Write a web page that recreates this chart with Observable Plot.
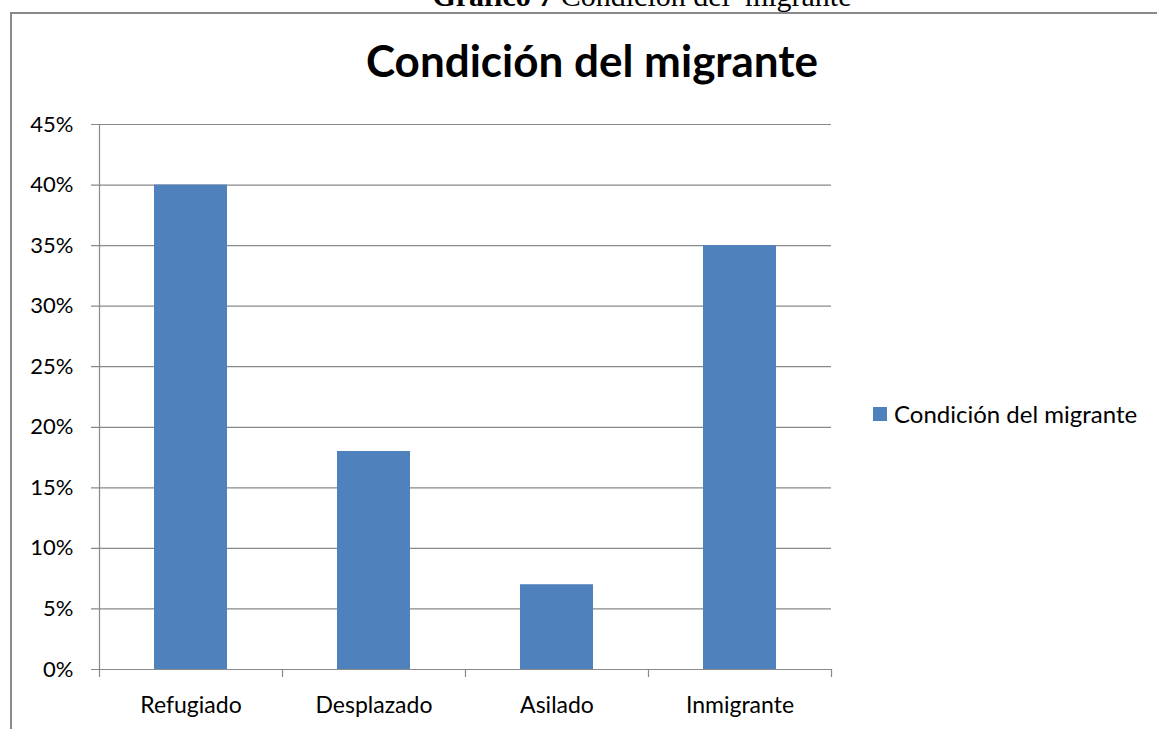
<!DOCTYPE html>
<html>
<head>
<meta charset="utf-8">
<script src="https://cdn.jsdelivr.net/npm/d3@7"></script>
<script src="https://cdn.jsdelivr.net/npm/@observablehq/plot@0.6"></script>
<style>
  html, body { margin: 0; padding: 0; background: #fff; }
  #wrap { position: relative; width: 1157px; height: 729px; overflow: hidden; background: #fff; }
  #frame { position: absolute; left: 10px; top: 12px; width: 1300px; height: 900px;
           border-left: 2px solid #8a8a8a; border-top: 2px solid #8a8a8a; box-sizing: border-box; }
</style>
</head>
<body>
<div id="wrap">
  <div id="frame"></div>
</div>
<script>
const categories = ["Refugiado", "Desplazado", "Asilado", "Inmigrante"];
const values = [0.40, 0.18, 0.07, 0.35];
const yTicks = [0, 0.05, 0.10, 0.15, 0.20, 0.25, 0.30, 0.35, 0.40, 0.45];
const captionBold = "Gráfico 7";
const captionText = " Condición del  migrante";
const chartTitle = "Condición del migrante";
const seriesName = "Condición del migrante";

const data = categories.map((c, i) => ({category: c, value: values[i]}));

const W = 1157, H = 729;
const mL = 99, mR = 326, mT = 124, mB = 60;
const step = (W - mL - mR) / categories.length;
const font = "Lato, 'Open Sans', sans-serif";
const gridColor = "#898989";
const barColor = "#4F81BD";

const plot = Plot.plot({
  width: W,
  height: H,
  marginLeft: mL,
  marginRight: mR,
  marginTop: mT,
  marginBottom: mB,
  style: {fontFamily: font, fontSize: "22px", color: "#000", background: "transparent", overflow: "visible",
          position: "absolute", left: "0px", top: "0px"},
  x: {type: "band", domain: categories, paddingInner: 0.6, paddingOuter: 0.3, label: null},
  y: {domain: [0, 0.45], label: null},
  marks: [
    Plot.ruleY(yTicks, {stroke: gridColor, strokeWidth: 1.2, insetLeft: -8}),
    Plot.barY(data, {x: "category", y: "value", fill: barColor}),
    Plot.ruleX([categories[0]], {x: d => d, dx: -step / 2, y1: 0.45, y2: -0.0066, stroke: gridColor, strokeWidth: 1.2}),
    Plot.ruleX(categories.slice(1), {x: d => d, dx: -step / 2, y1: 0, y2: -0.0066, stroke: gridColor, strokeWidth: 1.2}),
    Plot.ruleX([categories[categories.length - 1]], {x: d => d, dx: step / 2, y1: 0, y2: -0.0066, stroke: gridColor, strokeWidth: 1.2}),
    Plot.axisY({ticks: yTicks, tickFormat: d => Math.round(d * 100) + "%", tickSize: 0, tickPadding: 26, fontSize: 22, fill: "#000"}),
    Plot.axisX({tickSize: 0, tickPadding: 27, fontSize: 23, fill: "#000"})
  ]
});
document.getElementById("wrap").appendChild(plot);

// Overlay for caption, title and legend
const ov = d3.select("#wrap").append("svg")
  .attr("width", W).attr("height", H)
  .style("position", "absolute").style("left", "0px").style("top", "0px");

const cap = ov.append("text")
  .attr("x", 642).attr("y", 6)
  .attr("text-anchor", "middle")
  .attr("font-family", "'Liberation Serif', 'Times New Roman', serif")
  .attr("font-size", 30)
  .style("white-space", "pre");
cap.append("tspan").attr("font-weight", "bold").text(captionBold);
cap.append("tspan").text(captionText);

ov.append("text")
  .attr("x", 592).attr("y", 77)
  .attr("text-anchor", "middle")
  .attr("font-family", font)
  .attr("font-weight", "bold")
  .attr("font-size", 44)
  .text(chartTitle);

ov.append("rect")
  .attr("x", 873).attr("y", 407).attr("width", 14).attr("height", 14)
  .attr("fill", barColor);
ov.append("text")
  .attr("x", 894).attr("y", 423)
  .attr("font-family", font)
  .attr("font-size", 24)
  .text(seriesName);
</script>
</body>
</html>
